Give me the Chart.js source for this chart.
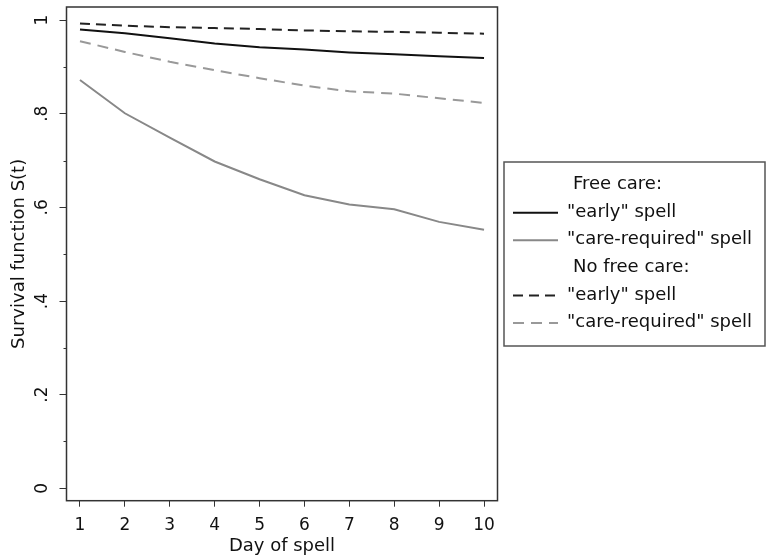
<!DOCTYPE html>
<html>
<head>
<meta charset="utf-8">
<script src="https://cdn.jsdelivr.net/npm/chart.js@4.4.1/dist/chart.umd.min.js"></script>
<style>
  html, body { margin: 0; padding: 0; background: #fff; }
  #wrap { width: 766px; height: 559px; position: relative; }
</style>
</head>
<body>
<div id="wrap"><canvas id="chart"></canvas></div>
<script>
// days on the x axis
const days = [1, 2, 3, 4, 5, 6, 7, 8, 9, 10];

// survival function S(t)
const freeEarly = [0.980, 0.972, 0.961, 0.950, 0.942, 0.937, 0.931, 0.927, 0.923, 0.919];
const freeCareReq = [0.872, 0.801, 0.749, 0.698, 0.660, 0.626, 0.606, 0.596, 0.569, 0.552];
const noFreeEarly = [0.993, 0.988, 0.985, 0.983, 0.981, 0.978, 0.976, 0.975, 0.973, 0.971];
const noFreeCareReq = [0.955, 0.932, 0.911, 0.893, 0.876, 0.860, 0.848, 0.843, 0.833, 0.823];

const yTicks = [0, 0.2, 0.4, 0.6, 0.8, 1];
const yMinorTicks = [0.1, 0.3, 0.5, 0.7, 0.9];

const groupNames = ["Free care:", "No free care:"];
const seriesNames = ['"early" spell', '"care-required" spell', '"early" spell', '"care-required" spell'];

const FONT = "'DejaVu Sans', sans-serif";

const toPoints = (vals) => days.map((d, i) => ({ x: d, y: vals[i] }));

const datasets = [
  { label: seriesNames[0], data: toPoints(freeEarly), borderColor: "#111", borderWidth: 2, borderDash: [] },
  { label: seriesNames[1], data: toPoints(freeCareReq), borderColor: "#888", borderWidth: 2, borderDash: [] },
  { label: seriesNames[2], data: toPoints(noFreeEarly), borderColor: "#222", borderWidth: 2, borderDash: [10, 6] },
  { label: seriesNames[3], data: toPoints(noFreeCareReq), borderColor: "#999", borderWidth: 2, borderDash: [11, 7] }
].map((d) => Object.assign(d, { pointRadius: 0, fill: false, tension: 0 }));

// frame, minor ticks and the boxed legend on the right
const extras = {
  id: "extras",
  afterDraw: (chart) => {
    const ctx = chart.ctx;
    const a = chart.chartArea;
    const yScale = chart.scales.y;
    ctx.save();

    ctx.strokeStyle = "#333";
    ctx.lineWidth = 1.5;
    ctx.strokeRect(a.left, a.top, a.right - a.left, a.bottom - a.top);

    ctx.lineWidth = 1;
    yMinorTicks.forEach((v) => {
      const y = Math.round(yScale.getPixelForValue(v)) + 0.5;
      ctx.beginPath();
      ctx.moveTo(a.left - 3, y);
      ctx.lineTo(a.left, y);
      ctx.stroke();
    });

    // legend box
    ctx.strokeStyle = "#555";
    ctx.lineWidth = 1.5;
    ctx.strokeRect(504, 162, 261, 184);

    const rowY = (i) => 184.6 + 27.6 * i;
    ctx.font = "18px " + FONT;
    ctx.fillStyle = "#111";
    ctx.textBaseline = "middle";
    ctx.textAlign = "left";

    const rows = [
      { header: groupNames[0] },
      { ds: 0 }, { ds: 1 },
      { header: groupNames[1] },
      { ds: 2 }, { ds: 3 }
    ];
    rows.forEach((r, i) => {
      const y = rowY(i);
      if (r.header) {
        ctx.fillText(r.header, 573, y);
        return;
      }
      const d = chart.data.datasets[r.ds];
      ctx.save();
      ctx.strokeStyle = d.borderColor;
      ctx.lineWidth = d.borderWidth;
      ctx.setLineDash(d.borderDash);
      ctx.beginPath();
      ctx.moveTo(513, y + 0.5);
      ctx.lineTo(558, y + 0.5);
      ctx.stroke();
      ctx.restore();
      ctx.fillText(d.label, 567, y);
    });

    ctx.restore();
  }
};

new Chart(document.getElementById("chart"), {
  type: "line",
  data: { datasets: datasets },
  plugins: [extras],
  options: {
    responsive: true,
    maintainAspectRatio: false,
    devicePixelRatio: 1,
    animation: false,
    layout: { padding: { left: 0, top: 7, right: 268.5, bottom: 0 } },
    plugins: {
      legend: { display: false },
      tooltip: { enabled: false }
    },
    scales: {
      x: {
        type: "linear",
        min: 0.7,
        max: 10.3,
        afterBuildTicks: (scale) => { scale.ticks = days.map((v) => ({ value: v })); },
        afterFit: (scale) => {
          scale.height = 58.3;
          scale.paddingLeft = 0;
          scale.paddingRight = 0;
        },
        border: { display: false },
        grid: { drawOnChartArea: false, tickLength: 6, color: "#333", lineWidth: 1 },
        ticks: {
          font: { family: FONT, size: 17 },
          color: "#111",
          padding: 9,
          maxRotation: 0,
          autoSkip: false
        },
        title: {
          display: true,
          text: "Day of spell",
          font: { family: FONT, size: 18 },
          color: "#111",
          padding: { top: 0, bottom: 2 }
        }
      },
      y: {
        type: "linear",
        min: -0.0265,
        max: 1.028,
        afterBuildTicks: (scale) => { scale.ticks = yTicks.map((v) => ({ value: v })); },
        afterFit: (scale) => {
          scale.width = 66.5;
          scale.paddingTop = 0;
          scale.paddingBottom = 0;
        },
        border: { display: false },
        grid: { drawOnChartArea: false, tickLength: 7, color: "#333", lineWidth: 1 },
        ticks: {
          font: { family: FONT, size: 17 },
          color: "#111",
          padding: 9,
          minRotation: 90,
          maxRotation: 90,
          crossAlign: "center",
          callback: (v) => {
            if (v === 0) return "0";
            if (v === 1) return "1";
            return "." + Math.round(v * 10);
          }
        },
        title: {
          display: true,
          text: "Survival function S(t)",
          font: { family: FONT, size: 18 },
          color: "#111",
          padding: { top: 9, bottom: 0 }
        }
      }
    }
  }
});
</script>
</body>
</html>
